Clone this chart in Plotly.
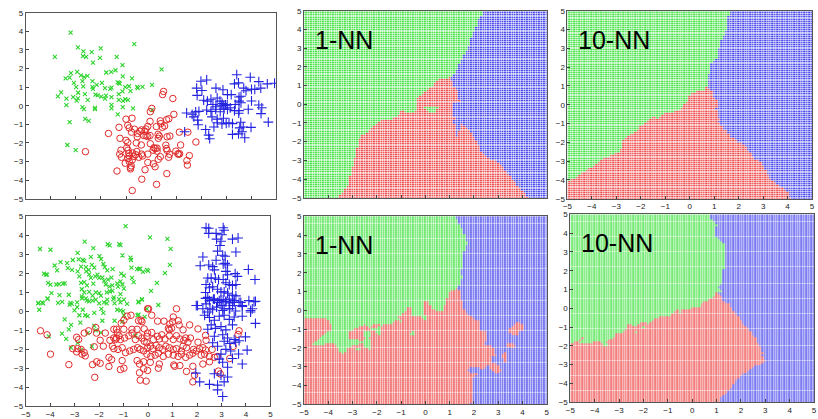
import numpy as np
import plotly.graph_objects as go

# ---- training samples (x, y) per class --------------------------------------
TOP_GREEN = [
    (-3.21, 3.93), (-3.84, 2.63), (-2.92, 3.14), (-2.70, 2.93), (-2.37, 2.89), (-2.01, 3.09),
    (-0.67, 3.32), (-2.72, 2.67), (-2.59, 2.63), (-2.32, 2.32), (-2.04, 2.58), (-1.37, 2.63),
    (-1.14, 2.19), (-1.42, 1.91), (-1.79, 1.79), (-1.59, 1.82), (-3.20, 1.75), (-2.95, 1.82),
    (-3.41, 1.47), (-3.25, 1.51), (-2.80, 1.63), (-2.67, 1.54), (-2.54, 1.61), (-1.13, 1.58),
    (-0.76, 1.47), (0.42, 1.96), (-3.08, 1.23), (-2.74, 1.33), (-2.34, 1.33), (-1.96, 1.23),
    (-1.33, 1.26), (-1.28, 1.23), (-1.25, 1.19), (-2.34, 1.02), (-2.17, 1.12), (-2.32, 0.91),
    (-2.99, 1.00), (-2.71, 1.04), (-1.84, 0.95), (-1.63, 0.91), (-1.58, 0.98), (-1.03, 1.00),
    (-0.88, 1.05), (-0.55, 1.02), (-0.34, 1.02), (-0.53, 0.95), (0.04, 1.12), (-3.59, 0.72),
    (-3.72, 0.51), (-2.91, 0.70), (-2.64, 0.63), (-2.22, 0.60), (-2.13, 0.56), (-1.29, 0.63),
    (-1.14, 0.77), (-0.82, 0.79), (-3.38, 0.39), (-3.11, 0.46), (-2.92, 0.40), (-2.97, 0.28),
    (-2.53, 0.32), (-1.99, 0.49), (-1.84, 0.39), (-1.80, 0.54), (-1.58, 0.46), (-1.29, 0.32),
    (-1.12, 0.26), (-1.03, 0.35), (-0.92, 0.32), (-3.38, 0.04), (-2.74, -0.07), (-2.68, -0.18),
    (-2.24, -0.11), (-2.24, -0.18), (-1.58, 0.05), (-1.58, -0.14), (-1.13, -0.07), (-0.72, -0.14),
    (-1.33, -0.46), (0.04, -0.23), (-3.25, -0.88), (-2.63, -0.70), (-2.49, -0.81), (-3.34, -2.11),
    (-3.01, -2.39),
]
TOP_RED = [
    (0.50, 0.77), (0.46, 0.60), (0.87, 0.39), (0.03, -0.14), (-0.03, -0.32), (-1.00, -0.72),
    (-0.76, -0.67), (-0.04, -0.84), (0.37, -0.81), (0.62, -0.75), (0.71, -0.70), (0.39, -0.96),
    (0.91, -0.46), (-1.28, -1.16), (-0.93, -1.05), (-0.87, -1.19), (-0.78, -1.42), (-0.66, -1.26),
    (-0.45, -1.37), (-0.54, -1.49), (-0.55, -1.67), (-0.38, -1.30), (-0.25, -1.37), (-0.20, -1.25),
    (-0.13, -1.11), (-0.29, -1.60), (-0.20, -1.62), (-0.13, -1.65), (-0.04, -1.60), (0.21, -1.12),
    (0.45, -1.16), (0.54, -1.09), (-1.70, -1.49), (-1.24, -1.75), (-1.00, -1.86), (-0.93, -1.98),
    (-0.59, -2.00), (-0.39, -2.11), (-0.03, -2.04), (0.28, -1.54), (0.33, -1.63), (0.29, -1.75),
    (0.64, -1.67), (0.75, -1.63), (1.13, -1.42), (1.47, -1.42), (1.79, -1.95), (1.18, -2.11),
    (-1.20, -2.39), (-1.25, -2.60), (-0.97, -2.26), (-0.92, -2.39), (-0.89, -2.56), (-0.87, -2.70),
    (-0.74, -2.54), (-0.68, -2.72), (-0.62, -2.63), (-0.57, -2.46), (-0.92, -2.84), (-0.87, -3.00),
    (-0.75, -2.91), (-0.79, -3.23), (-0.82, -3.32), (-1.03, -3.09), (-0.49, -2.77), (-0.34, -2.70),
    (-0.38, -2.60), (0.08, -2.39), (0.11, -2.26), (0.17, -2.30), (0.24, -2.44), (0.24, -2.28),
    (0.37, -2.74), (0.29, -2.88), (0.09, -3.12), (0.59, -2.12), (0.61, -2.30), (0.64, -2.40),
    (0.74, -2.61), (0.70, -2.77), (0.99, -2.44), (1.07, -2.58), (1.10, -2.61), (1.14, -2.58),
    (1.53, -2.68), (1.43, -2.95), (1.45, -3.19), (-0.13, -2.60), (-0.13, -3.05), (-1.36, -3.51),
    (-0.82, -3.40), (-0.24, -3.44), (0.16, -3.28), (0.63, -3.65), (-0.37, -3.95), (0.22, -4.23),
    (-0.75, -4.56), (-2.62, -2.47), (-1.18, -2.77),
]
TOP_BLUE = [
    (3.42, 1.67), (3.96, 1.53), (4.30, 1.30), (4.64, 1.18), (4.93, 1.21), (1.99, 1.32),
    (2.22, 1.39), (3.33, 1.18), (3.49, 1.23), (1.82, 0.95), (2.03, 0.82), (1.84, 0.56),
    (2.59, 0.95), (2.87, 0.86), (3.05, 0.60), (3.20, 0.60), (3.70, 0.95), (3.79, 0.81),
    (4.01, 0.88), (4.14, 0.88), (4.38, 0.95), (3.51, 0.47), (3.59, 0.51), (2.10, 0.30),
    (2.25, 0.25), (2.39, 0.35), (2.64, 0.42), (2.75, 0.25), (2.47, 0.07), (2.59, -0.05),
    (2.84, 0.12), (3.04, 0.05), (3.16, -0.11), (3.36, 0.07), (3.51, 0.25), (3.59, 0.16),
    (4.01, 0.26), (4.30, 0.04), (4.42, -0.11), (1.42, -0.39), (1.78, -0.33), (1.91, -0.30),
    (2.22, -0.23), (2.39, -0.30), (2.58, -0.19), (2.76, -0.32), (2.91, -0.18), (3.33, -0.26),
    (3.51, -0.26), (3.88, -0.19), (4.39, -0.42), (1.64, -0.46), (1.71, -0.60), (1.86, -0.77),
    (2.43, -0.60), (2.64, -0.72), (2.89, -0.67), (3.50, -0.40), (2.64, -0.91), (2.83, -0.98),
    (3.00, -0.95), (3.11, -0.91), (3.25, -0.96), (3.58, -0.89), (4.68, -0.88), (1.88, -1.02),
    (2.51, -1.14), (3.54, -1.19), (3.68, -1.14), (3.99, -1.16), (3.63, -1.40), (3.74, -1.72),
    (2.18, -1.28), (2.30, -1.58), (2.34, -1.77), (3.25, -1.54), (3.49, -1.51), (1.34, -1.40),
    (2.90, 0.00), (2.97, 0.05), (2.80, 0.03), (3.05, -0.19),
]

BOT_GREEN = [
    (-0.92, 4.49), (0.08, 3.89), (-4.42, 3.28), (-3.99, 3.24), (-2.59, 3.67), (-2.24, 3.33),
    (-1.65, 3.53), (-1.57, 3.47), (-1.18, 3.53), (-1.13, 3.48), (-2.88, 3.07), (-1.05, 2.94),
    (-0.72, 2.82), (-0.70, 2.70), (-3.08, 2.70), (-2.84, 2.73), (-2.67, 2.70), (-2.61, 2.65),
    (-2.34, 2.87), (-1.99, 2.90), (-1.92, 2.75), (-3.58, 2.59), (-3.31, 2.53), (-3.82, 2.41),
    (-3.72, 2.15), (-3.28, 2.27), (-3.11, 2.18), (-2.74, 2.35), (-2.54, 2.32), (-2.43, 2.18),
    (-2.30, 2.44), (-2.20, 2.30), (-1.83, 2.49), (-1.77, 2.32), (-1.67, 2.15), (-1.45, 2.22),
    (-0.68, 2.30), (-0.45, 2.22), (-0.36, 2.22), (-0.21, 2.08), (0.00, 2.13), (-4.26, 1.98),
    (-4.18, 1.93), (-4.13, 1.93), (-4.09, 1.50), (-3.99, 1.40), (-3.75, 1.41), (-3.64, 1.43),
    (-3.48, 1.45), (-3.41, 1.47), (-2.88, 2.10), (-2.81, 1.84), (-2.53, 2.10), (-2.41, 1.94),
    (-2.34, 1.76), (-2.16, 1.84), (-2.07, 1.93), (-2.00, 1.76), (-1.87, 1.79), (-1.80, 1.60),
    (-1.64, 1.67), (-1.50, 1.77), (-1.10, 1.98), (-0.99, 1.88), (-1.13, 1.57), (-1.26, 1.47),
    (-1.05, 1.41), (-0.66, 1.76), (-0.59, 1.53), (0.12, 1.07), (-2.74, 1.50), (-2.61, 1.53),
    (-2.50, 1.36), (-2.24, 1.45), (-1.73, 1.41), (-1.58, 1.30), (-1.46, 1.36), (-1.23, 1.30),
    (-0.99, 1.19), (-2.71, 1.16), (-2.61, 0.99), (-2.71, 0.78), (-2.41, 1.02), (-2.27, 0.82),
    (-2.14, 0.99), (-2.00, 0.95), (-1.93, 0.82), (-1.69, 0.99), (-1.56, 1.04), (-1.46, 1.07),
    (-1.40, 0.73), (-1.13, 0.90), (-3.62, 0.85), (-3.24, 0.87), (-3.95, 0.95), (-4.49, 0.44),
    (-4.33, 0.47), (-4.11, 0.65), (-3.68, 0.44), (-3.17, 0.44), (-2.90, 0.47), (-2.50, 0.56),
    (-2.14, 0.61), (-1.80, 0.47), (-1.67, 0.61), (-1.13, 0.47), (-0.99, 0.61), (-0.39, 0.51),
    (-0.25, 0.61), (-4.49, 0.42), (-4.29, 0.42), (-4.11, 0.68), (-4.45, 0.08), (-3.51, 0.49),
    (-3.21, 0.35), (-3.12, 0.39), (-3.01, 0.05), (-2.90, 0.22), (-2.81, -0.21), (-2.67, 0.08),
    (-2.57, -0.21), (-2.47, -0.26), (-3.41, -0.43), (-3.15, -0.72), (-3.24, -0.95), (-3.52, -1.18),
    (-3.35, -1.46), (-3.15, -1.92), (-2.74, -2.04), (-2.88, -1.66), (-2.70, 0.68), (-2.54, 0.68),
    (-2.41, 0.52), (-2.27, 0.56), (-2.20, -0.09), (-2.00, 0.42), (-1.91, 0.13), (-1.83, -0.09),
    (-1.87, -0.50), (-1.69, 0.42), (-1.42, 0.64), (-1.37, 0.42), (-1.26, 0.08), (-1.19, 0.64),
    (-1.13, 0.05), (-1.02, 0.01), (-0.86, 0.39), (-1.06, -0.55), (-0.99, -0.21), (-0.39, 0.47),
    (-0.25, 0.64), (-0.39, -0.18), (-0.05, 0.13), (-2.20, -0.77), (-1.93, -1.12), (-1.37, -0.50),
    (-2.77, -0.60), (-2.47, -1.15), (-2.14, -1.01), (-4.06, -1.32), (-0.52, -1.29), (0.79, 3.81),
    (0.92, 3.29), (-0.32, 2.25), (0.89, 2.44), (0.69, 2.01), (0.36, 1.50), (0.42, 0.33),
    (-0.43, -0.21), (-0.14, -0.30), (-0.05, 2.18), (-2.30, -1.85),
]
BOT_RED = [
    (-4.40, -1.03), (-4.13, -1.24), (-3.99, -2.26), (-3.24, -2.81), (-2.92, -1.37), (-2.84, -1.49),
    (-2.61, -1.15), (-2.43, -1.03), (-2.14, -0.86), (-2.11, -1.15), (-1.75, -1.15), (-3.08, -1.97),
    (-2.92, -2.14), (-2.88, -1.97), (-2.74, -2.01), (-2.61, -2.18), (-2.57, -2.35), (-2.70, -2.26),
    (-2.20, -1.87), (-1.96, -1.53), (-1.83, -1.84), (-1.56, -1.53), (-1.46, -1.84), (-1.33, -1.49),
    (-1.26, -1.12), (-1.40, -0.95), (-1.29, -0.95), (-0.99, -0.95), (-0.66, -0.95), (-0.45, -0.95),
    (-0.16, -0.93), (-1.10, -0.64), (-0.99, -0.47), (-0.86, -0.26), (-0.70, -0.21), (-0.39, -0.50),
    (-0.25, -0.55), (-0.02, 0.13), (-1.19, -1.29), (-1.40, -1.41), (-1.29, -1.41), (-1.13, -1.49),
    (-0.96, -1.41), (-0.79, -1.29), (-0.66, -1.15), (-0.52, -1.49), (-0.39, -1.29), (-0.25, -1.41),
    (-0.16, -1.58), (-0.05, -1.32), (-1.40, -1.97), (-1.23, -2.01), (-1.06, -1.92), (-0.92, -2.18),
    (-0.75, -2.09), (-0.59, -2.01), (-0.43, -1.92), (-0.32, -2.01), (-0.18, -2.09), (-0.02, -1.92),
    (-1.60, -2.43), (-1.49, -2.55), (-1.06, -2.60), (-0.45, -2.60), (-0.35, -2.78), (-0.18, -2.66),
    (-2.27, -2.81), (-2.10, -2.66), (-1.96, -2.74), (-1.60, -2.91), (-1.13, -3.07), (-0.99, -3.00),
    (-0.35, -3.24), (-0.02, -3.12), (-0.32, -3.63), (-0.08, -3.68), (-2.18, -3.48),
    (1.16, 0.13), (0.39, -0.52), (0.65, -0.52), (0.83, -0.90), (0.89, -0.67), (1.00, -0.55),
    (1.23, -0.50), (1.27, -0.72), (0.96, -0.90), (0.87, -0.98), (2.04, -0.93), (1.43, -0.98),
    (3.72, -1.03), (3.68, -1.22), (-0.02, -1.15), (0.15, -1.12), (0.22, -1.49), (0.38, -1.32),
    (0.46, -1.46), (0.56, -1.24), (0.69, -1.46), (0.87, -1.29), (1.03, -1.49), (1.16, -1.29),
    (1.30, -1.46), (1.46, -1.53), (1.54, -1.41), (1.63, -1.63), (1.73, -1.41), (2.04, -1.63),
    (2.37, -1.53), (2.35, -1.27), (-0.05, -1.66), (0.09, -1.84), (0.19, -1.97), (0.33, -1.80),
    (0.46, -1.92), (0.60, -2.01), (0.73, -1.84), (0.87, -1.92), (1.03, -2.01), (1.16, -1.97),
    (1.36, -2.09), (1.43, -1.84), (1.57, -1.92), (1.86, -2.01), (1.97, -2.09), (2.10, -1.97),
    (2.24, -1.92), (2.35, -2.04), (2.62, -2.01), (3.48, -1.85), (-0.05, -2.26),
    (0.11, -2.38), (0.29, -2.31), (0.42, -2.21), (0.62, -2.38), (0.83, -2.26), (1.03, -2.31),
    (1.23, -2.38), (1.36, -2.26), (1.54, -2.43), (1.70, -2.31), (1.83, -2.21), (2.17, -2.31),
    (2.31, -2.26), (2.51, -2.38), (2.71, -2.43), (2.84, -2.38), (3.34, -2.49),
    (2.88, -3.15), (2.95, -3.30), (0.09, -2.69), (0.46, -2.78), (1.05, -2.83), (1.09, -2.90),
    (1.30, -2.86), (1.83, -2.90), (2.24, -2.78), (2.51, -2.66), (-0.18, -3.03), (0.42, -3.00),
    (1.57, -3.17), (1.90, -3.37), (1.83, -3.72), (0.15, -0.21), (-0.29, -0.47),
    (1.03, -0.30), (1.70, -0.72), (0.02, 0.13),
]
BOT_BLUE = [
    (2.37, 4.40), (2.48, 4.37), (2.48, 4.10), (2.78, 4.10), (3.07, 4.40), (3.11, 4.27),
    (3.02, 4.03), (2.80, 3.80), (2.98, 3.69), (2.94, 3.46), (3.45, 3.80), (3.68, 3.86),
    (2.84, 3.17), (3.05, 2.95), (3.15, 2.90), (3.59, 3.12), (2.24, 2.86), (2.13, 2.40),
    (2.48, 2.44), (2.78, 2.69), (3.07, 2.49), (3.15, 2.52), (3.25, 2.44), (2.64, 2.35),
    (2.71, 2.18), (3.18, 2.10), (3.25, 1.92), (3.56, 1.98), (3.65, 1.84), (4.10, 2.20),
    (4.37, 1.67), (2.44, 1.75), (2.58, 1.74), (2.75, 1.75), (2.88, 1.67), (3.07, 1.67),
    (3.18, 1.50), (3.32, 1.41), (3.45, 1.36), (3.59, 1.41), (2.37, 1.41), (2.51, 1.24),
    (2.64, 1.29), (2.84, 1.16), (2.98, 1.02), (3.11, 1.02), (3.25, 0.95), (3.45, 0.85),
    (3.59, 0.81), (2.35, 0.99), (2.44, 0.73), (2.67, 0.64), (2.91, 0.56), (3.07, 0.61),
    (3.18, 0.50), (3.32, 0.44), (3.52, 0.47), (3.79, 0.47), (4.12, 0.56), (4.33, 0.50),
    (1.97, 0.30), (2.37, 0.39), (2.53, 0.13), (2.80, 0.22), (3.02, 0.30), (3.11, 0.13),
    (3.32, 0.13), (3.45, 0.30), (4.26, 0.13), (3.85, 0.30), (2.35, 0.68), (2.51, 0.56),
    (2.71, 0.64), (2.84, 0.47), (2.98, 0.59), (3.18, 0.52), (3.32, 0.64), (3.52, 0.56),
    (3.72, 0.47), (4.39, 0.52), (2.24, 0.13), (2.44, -0.04), (2.64, 0.08), (3.05, 0.04),
    (3.34, 0.13), (3.58, 0.01), (3.85, 0.25), (4.19, 0.04), (2.31, -0.21), (2.51, -0.33),
    (2.71, -0.47), (2.91, -0.26), (3.11, -0.21), (3.32, -0.43), (3.52, -0.30), (3.85, -0.26),
    (4.19, -0.04), (4.39, -0.64), (2.58, -0.72), (2.75, -0.90), (2.98, -0.81), (3.18, -0.98),
    (3.45, -0.72), (3.72, -1.55), (2.44, -0.95), (2.71, -1.32), (3.05, -1.24), (3.25, -1.41),
    (3.52, -1.49), (2.64, -1.66), (2.84, -1.84), (3.11, -1.58), (3.34, -1.70), (3.58, -1.63),
    (3.18, -2.01), (3.38, -2.09), (2.98, -2.26), (3.45, -2.49), (3.85, -2.78), (2.91, -2.52),
    (3.05, -2.69), (3.25, -2.95), (2.71, -3.29), (2.98, -3.37), (3.25, -3.46), (2.51, -3.85),
    (2.84, -3.89), (3.11, -3.72), (3.05, -4.49), (2.84, -4.14), (1.95, -3.26), (2.11, -3.72),
    (2.02, 0.30), (3.98, -1.35), (4.05, -2.05), (3.70, -2.25),
]

TICKS = [-5, -4, -3, -2, -1, 0, 1, 2, 3, 4, 5]
NEIGHBOURS = [1, 10]
LABELS = ["1-NN", "10-NN"]

CLASS_COLORS = ["#2fd42f", "#e02a2a", "#2323e0"]     # marker colours
REGION_COLORS = ["#3ee03e", "#ec4545", "#4141ea"]    # decision-grid cells

W, H = 818, 419
# panel boxes in pixels: (left, right, top, bottom)
BOXES = [
    (21, 274, 9, 199), (302, 547, 7, 198), (568, 815, 7, 199),
    (21, 268, 217, 411), (302, 547, 217, 409), (571, 817, 215, 407),
]


def knn_map(groups, k, grid):
    pts = np.array([p for g in groups for p in g])
    lab = np.concatenate([np.full(len(g), i) for i, g in enumerate(groups)])
    gx, gy = np.meshgrid(grid, grid)
    d = (gx[..., None] - pts[:, 0]) ** 2 + (gy[..., None] - pts[:, 1]) ** 2
    order = np.argsort(d, axis=-1)[..., :k]
    votes = lab[order]
    counts = np.stack([(votes == c).sum(-1) for c in range(len(groups))], -1).astype(float)
    # break ties in favour of the class of the closest neighbour
    counts += 1e-3 * np.stack([(votes[..., :1] == c).sum(-1) for c in range(len(groups))], -1)
    return np.argmax(counts, axis=-1)


grid = np.linspace(-5, 5, 101)
datasets = [(TOP_GREEN, TOP_RED, TOP_BLUE), (BOT_GREEN, BOT_RED, BOT_BLUE)]

fig = go.Figure()
scale = [[0, REGION_COLORS[0]], [1 / 3, REGION_COLORS[0]], [1 / 3, REGION_COLORS[1]],
         [2 / 3, REGION_COLORS[1]], [2 / 3, REGION_COLORS[2]], [1, REGION_COLORS[2]]]

symbols = [("x-thin", 4, 1.1), ("circle-open", 6.5, 1.0), ("cross-thin", 7, 1.1)]

for row, groups in enumerate(datasets):
    base = row * 3
    ax = "" if base == 0 else str(base + 1)
    for cls, g in enumerate(groups):
        sym, size, lw = symbols[cls]
        fig.add_trace(go.Scatter(
            x=[p[0] for p in g], y=[p[1] for p in g], mode="markers",
            xaxis="x" + ax, yaxis="y" + ax, showlegend=False,
            marker=dict(symbol=sym, size=size, color=CLASS_COLORS[cls],
                        line=dict(width=lw, color=CLASS_COLORS[cls])),
        ))
    for j, k in enumerate(NEIGHBOURS):
        n = str(base + 2 + j)
        z = knn_map(groups, k, grid)
        fig.add_trace(go.Heatmap(
            x=grid, y=grid, z=z, zmin=0, zmax=2, colorscale=scale, showscale=False,
            xgap=0.6, ygap=0.6, xaxis="x" + n, yaxis="y" + n, hoverinfo="skip",
        ))
        l, r, t, b = BOXES[base + 1 + j]
        fig.add_annotation(
            text=LABELS[j], xref="paper", yref="paper",
            x=(l + 9) / W, y=1 - (t + 13) / H, xanchor="left", yanchor="top",
            showarrow=False, font=dict(family="Liberation Sans, Arial", size=25, color="black"),
        )

axis_style = dict(
    range=[-5, 5], tickvals=TICKS, ticks="inside", ticklen=3, tickcolor="#444",
    showline=True, mirror=True, linecolor="#555", linewidth=1, showgrid=False,
    zeroline=False, tickfont=dict(family="Liberation Sans, Arial", size=8, color="#222"),
    fixedrange=True,
)

layout = dict(width=W, height=H, margin=dict(l=0, r=0, t=0, b=0),
              paper_bgcolor="white", plot_bgcolor="white")
for i, (l, r, t, b) in enumerate(BOXES):
    n = "" if i == 0 else str(i + 1)
    layout["xaxis" + n] = dict(axis_style, domain=[l / W, r / W], anchor="y" + n,
                               showticklabels=i not in (0, 1))
    layout["yaxis" + n] = dict(axis_style, domain=[1 - b / H, 1 - t / H], anchor="x" + n)

fig.update_layout(**layout)
fig.write_html("out.html")
